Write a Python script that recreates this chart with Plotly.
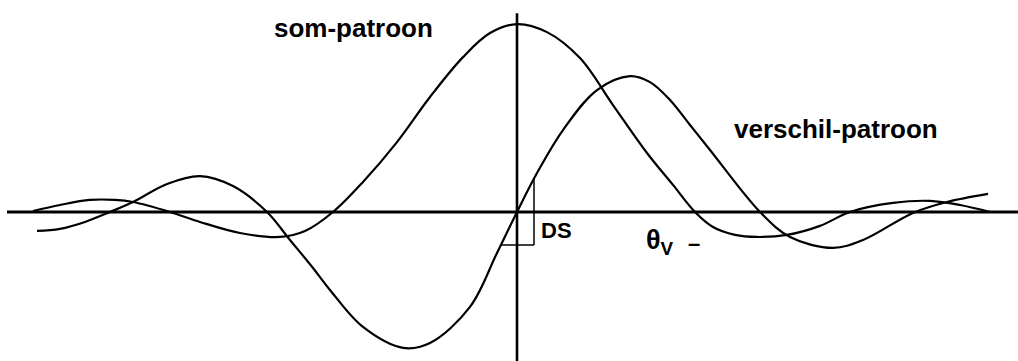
import numpy as np
import plotly.graph_objects as go

# Sum pattern (som-patroon): angle vs. normalised amplitude
som_theta = [-4.84, -4.57, -4.27, -4.02, -3.84, -3.47, -3.17, -2.77, -2.37, -2.12,
             -1.84, -1.54, -1.20, -0.87, -0.54, -0.27, 0.00, 0.30, 0.63, 0.96,
             1.30, 1.56, 1.78, 1.96, 2.18, 2.40, 2.70, 3.03, 3.33, 3.76,
             4.13, 4.43, 4.73]
som_amp = [0.005, 0.037, 0.064, 0.064, 0.053, 0.000, -0.053, -0.112, -0.133, -0.101,
           0.000, 0.160, 0.372, 0.612, 0.824, 0.952, 1.000, 0.957, 0.819, 0.569,
           0.314, 0.144, 0.000, -0.080, -0.122, -0.133, -0.122, -0.074, 0.000, 0.048,
           0.059, 0.037, 0.000]

# Difference pattern (verschil-patroon)
vers_theta = [-4.80, -4.57, -4.32, -4.07, -3.84, -3.50, -3.17, -2.84, -2.50, -2.27,
              -2.04, -1.87, -1.54, -1.14, -0.87, -0.47, -0.20, 0.00, 0.20, 0.46,
              0.80, 1.13, 1.33, 1.53, 1.73, 1.93, 2.43, 2.73, 3.16, 3.46,
              3.96, 4.30, 4.71]
vers_amp = [-0.101, -0.090, -0.053, 0.000, 0.053, 0.149, 0.191, 0.138, 0.000, -0.149,
            -0.298, -0.415, -0.612, -0.723, -0.697, -0.505, -0.218, 0.000, 0.207, 0.436,
            0.649, 0.723, 0.691, 0.596, 0.463, 0.330, 0.000, -0.133, -0.191, -0.149,
            -0.005, 0.053, 0.096]

# Offset at which the difference slope (DS) is marked
ds_theta = 0.17

X_RANGE = [-5.17, 5.01]
Y_RANGE = [-0.793, 1.128]
INK = "#000000"
FONT = "Liberation Sans, Arial, Helvetica, sans-serif"

fig = go.Figure()

for th, amp in ((som_theta, som_amp), (vers_theta, vers_amp)):
    fig.add_trace(go.Scatter(
        x=th, y=amp, mode="lines",
        line=dict(color=INK, width=2.2, shape="spline", smoothing=1.0),
        hoverinfo="skip", showlegend=False,
    ))

# Axes drawn as plain lines through the origin
fig.add_shape(type="line", x0=-5.10, x1=5.01, y0=0, y1=0,
              line=dict(color=INK, width=3))
fig.add_shape(type="line", x0=0, x1=0, y0=-0.793, y1=1.058,
              line=dict(color=INK, width=2.6))

# DS bracket: up to the difference curve at ds_theta, and across to it below the axis
ds_val = float(np.interp(ds_theta, vers_theta, vers_amp))
seg_amp = np.array(vers_amp[14:20])
seg_th = np.array(vers_theta[14:20])
ds_left = float(np.interp(-ds_val, seg_amp, seg_th))
fig.add_shape(type="line", x0=ds_theta, x1=ds_theta, y0=ds_val, y1=-ds_val,
              line=dict(color=INK, width=1.5))
fig.add_shape(type="line", x0=ds_left, x1=ds_theta, y0=-ds_val, y1=-ds_val,
              line=dict(color=INK, width=1.5))

def label(text, x, y, size, xanchor="left"):
    fig.add_annotation(x=x, y=y, xref="x", yref="y", text=text, showarrow=False,
                       xanchor=xanchor, yanchor="middle",
                       font=dict(family=FONT, size=size, color=INK, weight="bold"))

label("som-patroon", -2.45, 0.98, 26)
label("verschil-patroon", 2.15, 0.44, 26)
label("DS", 0.22, -0.10, 22)
label("θ<sub>V</sub>", 1.27, -0.16, 27)
label("–", 1.69, -0.17, 22)

fig.update_layout(
    width=1018, height=361,
    margin=dict(l=0, r=0, t=0, b=0),
    paper_bgcolor="white", plot_bgcolor="white",
    xaxis=dict(range=X_RANGE, visible=False, fixedrange=True),
    yaxis=dict(range=Y_RANGE, visible=False, fixedrange=True),
)

fig.write_html("out.html")
